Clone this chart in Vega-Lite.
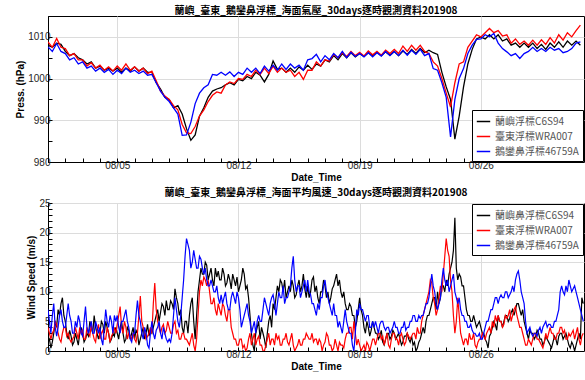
{
"$schema": "https://vega.github.io/schema/vega-lite/v6.json",
"background": "white",
"padding": {"left": 15, "top": 5, "right": 1, "bottom": 2},
"spacing": 4,
"config": {
  "font": "Liberation Sans",
  "view": {"stroke": "black", "strokeWidth": 1},
  "axis": {"labelFontSize": 10, "labelColor": "#262626", "titleFontSize": 10, "titleFontWeight": "bold", "titleColor": "#000", "tickColor": "#000", "domainColor": "#000", "gridColor": "#dcdcdc", "grid": true, "tickSize": -4, "labelPadding": 2, "titlePadding": 2},
  "legend": {"symbolType": "stroke", "symbolStrokeWidth": 1.5, "symbolSize": 180, "strokeColor": "#000", "fillColor": "#fff", "padding": 4, "offset": 1, "labelFontSize": 10, "labelColor": "#555", "labelFont": "Noto Sans CJK TC", "rowPadding": 2, "title": null}
},
"resolve": {"scale": {"color": "independent"}, "legend": {"color": "independent"}},
"datasets": {
"p": [
{"t":"2019-08-01T00:00","a":1008,"b":1008.8,"c":1007.6},{"t":"2019-08-01T06:00","a":1007.5,"b":1007.5,"c":1006.5},{"t":"2019-08-01T12:00","a":1008.5,"b":1009.6,"c":1008.4},{"t":"2019-08-01T18:00","a":1008.2,"b":1007.5,"c":1006.5},
{"t":"2019-08-02T00:00","a":1006.5,"b":1007.2,"c":1006},{"t":"2019-08-02T06:00","a":1005.5,"b":1005.5,"c":1004.5},{"t":"2019-08-02T12:00","a":1006,"b":1006,"c":1005},{"t":"2019-08-02T18:00","a":1005,"b":1004.5,"c":1003.5},
{"t":"2019-08-03T00:00","a":1004.5,"b":1004.5,"c":1004},{"t":"2019-08-03T06:00","a":1003.5,"b":1003,"c":1002.5},{"t":"2019-08-03T12:00","a":1004,"b":1003.8,"c":1003},{"t":"2019-08-03T18:00","a":1002.5,"b":1002.5,"c":1001.8},
{"t":"2019-08-04T00:00","a":1003,"b":1003.2,"c":1002.5},{"t":"2019-08-04T06:00","a":1002,"b":1002,"c":1001.5},{"t":"2019-08-04T12:00","a":1002.5,"b":1002.8,"c":1002.2},{"t":"2019-08-04T18:00","a":1001.8,"b":1001.8,"c":1001},
{"t":"2019-08-05T00:00","a":1002.5,"b":1003,"c":1002},{"t":"2019-08-05T06:00","a":1001.5,"b":1002,"c":1001.2},{"t":"2019-08-05T12:00","a":1002.5,"b":1003.5,"c":1002.5},{"t":"2019-08-05T18:00","a":1001.8,"b":1002,"c":1001.5},
{"t":"2019-08-06T00:00","a":1002.8,"b":1002.8,"c":1002},{"t":"2019-08-06T06:00","a":1001.8,"b":1001.8,"c":1001.2},{"t":"2019-08-06T12:00","a":1002.5,"b":1002.5,"c":1001.8},{"t":"2019-08-06T18:00","a":1001.5,"b":1001.2,"c":1000.8},
{"t":"2019-08-07T00:00","a":1001.5,"b":1001.8,"c":1001},{"t":"2019-08-07T06:00","a":999,"b":999.5,"c":999},{"t":"2019-08-07T12:00","a":997.5,"b":997,"c":997},{"t":"2019-08-07T18:00","a":995.5,"b":995.8,"c":995.5},
{"t":"2019-08-08T00:00","a":995,"b":995,"c":994.5},{"t":"2019-08-08T06:00","a":993,"b":993.5,"c":993},{"t":"2019-08-08T12:00","a":993.5,"b":992.5,"c":991.5},{"t":"2019-08-08T18:00","a":991.5,"b":989,"c":986.4},
{"t":"2019-08-09T00:00","a":988,"b":987,"c":986.5},{"t":"2019-08-09T06:00","a":985.2,"b":986.8,"c":989.5},{"t":"2019-08-09T12:00","a":986.5,"b":988.5,"c":994},{"t":"2019-08-09T18:00","a":991,"b":991,"c":996.5},
{"t":"2019-08-10T00:00","a":993,"b":992.5,"c":997.8},{"t":"2019-08-10T06:00","a":995.5,"b":994.5,"c":998.5},{"t":"2019-08-10T12:00","a":997,"b":996,"c":1001},{"t":"2019-08-10T18:00","a":997.5,"b":996.8,"c":1000.8},
{"t":"2019-08-11T00:00","a":997.8,"b":996.5,"c":1001.5},{"t":"2019-08-11T06:00","a":998.5,"b":998.5,"c":1000.8},{"t":"2019-08-11T12:00","a":999,"b":999.2,"c":1001.6},{"t":"2019-08-11T18:00","a":998.5,"b":998.8,"c":1000.5},
{"t":"2019-08-12T00:00","a":999.8,"b":1000,"c":1001.5},{"t":"2019-08-12T06:00","a":999.5,"b":999.8,"c":1001},{"t":"2019-08-12T12:00","a":1000.5,"b":1001,"c":1002.5},{"t":"2019-08-12T18:00","a":1000,"b":1000.5,"c":1001.5},
{"t":"2019-08-13T00:00","a":1001.5,"b":1002,"c":1002.5},{"t":"2019-08-13T06:00","a":1000.8,"b":1001,"c":1001.2},{"t":"2019-08-13T12:00","a":999.2,"b":1002.5,"c":1003},{"t":"2019-08-13T18:00","a":1001,"b":1001.2,"c":1001.8},
{"t":"2019-08-14T00:00","a":1004.2,"b":1003,"c":1003.2},{"t":"2019-08-14T06:00","a":1002.2,"b":1001.5,"c":1002},{"t":"2019-08-14T12:00","a":1002.5,"b":1002.5,"c":1003.5},{"t":"2019-08-14T18:00","a":1001.5,"b":1001.5,"c":1002.2},
{"t":"2019-08-15T00:00","a":1002.5,"b":1002,"c":1003.5},{"t":"2019-08-15T06:00","a":1001.5,"b":1000.5,"c":1002.5},{"t":"2019-08-15T12:00","a":1002.8,"b":1001.5,"c":1003.2},{"t":"2019-08-15T18:00","a":1002,"b":999.8,"c":1002},
{"t":"2019-08-16T00:00","a":1003.2,"b":1002,"c":1004.5},{"t":"2019-08-16T06:00","a":1002.2,"b":1002,"c":1004.8},{"t":"2019-08-16T12:00","a":1003.5,"b":1004,"c":1005.8},{"t":"2019-08-16T18:00","a":1003,"b":1003,"c":1004},
{"t":"2019-08-17T00:00","a":1004.5,"b":1004.5,"c":1005.5},{"t":"2019-08-17T06:00","a":1004,"b":1004.2,"c":1004.5},{"t":"2019-08-17T12:00","a":1005.5,"b":1005.8,"c":1006},{"t":"2019-08-17T18:00","a":1004.5,"b":1005,"c":1005},
{"t":"2019-08-18T00:00","a":1006,"b":1006.2,"c":1006.5},{"t":"2019-08-18T06:00","a":1005,"b":1005.3,"c":1005},{"t":"2019-08-18T12:00","a":1006.2,"b":1006.5,"c":1006.3},{"t":"2019-08-18T18:00","a":1005.2,"b":1005.5,"c":1005.3},
{"t":"2019-08-19T00:00","a":1006,"b":1006.3,"c":1006},{"t":"2019-08-19T06:00","a":1005.3,"b":1005.4,"c":1005.2},{"t":"2019-08-19T12:00","a":1006.2,"b":1006.6,"c":1006.2},{"t":"2019-08-19T18:00","a":1005.5,"b":1005.7,"c":1005.2},
{"t":"2019-08-20T00:00","a":1006.3,"b":1006.5,"c":1006.2},{"t":"2019-08-20T06:00","a":1005.5,"b":1005.6,"c":1005.4},{"t":"2019-08-20T12:00","a":1006.4,"b":1006.8,"c":1006.5},{"t":"2019-08-20T18:00","a":1005.6,"b":1006,"c":1005.5},
{"t":"2019-08-21T00:00","a":1006.5,"b":1007,"c":1006.5},{"t":"2019-08-21T06:00","a":1005.5,"b":1006,"c":1005.5},{"t":"2019-08-21T12:00","a":1006.6,"b":1007.8,"c":1006.8},{"t":"2019-08-21T18:00","a":1005.8,"b":1006.5,"c":1005.6},
{"t":"2019-08-22T00:00","a":1007,"b":1008,"c":1006.8},{"t":"2019-08-22T06:00","a":1006,"b":1006.8,"c":1005.8},{"t":"2019-08-22T12:00","a":1007.2,"b":1008,"c":1007},{"t":"2019-08-22T18:00","a":1006.2,"b":1006.5,"c":1005.5},
{"t":"2019-08-23T00:00","a":1006.8,"b":1006,"c":1006},{"t":"2019-08-23T06:00","a":1006.2,"b":1004,"c":1002.4},{"t":"2019-08-23T12:00","a":1005.8,"b":1003,"c":1002},{"t":"2019-08-23T18:00","a":1001.5,"b":1000,"c":999},
{"t":"2019-08-24T00:00","a":998,"b":996.5,"c":995.5},{"t":"2019-08-24T06:00","a":995,"b":993.2,"c":986},{"t":"2019-08-24T12:00","a":985.5,"b":999,"c":995},{"t":"2019-08-24T18:00","a":991,"b":1003.5,"c":1000},
{"t":"2019-08-25T00:00","a":998,"b":1004,"c":1002.4},{"t":"2019-08-25T06:00","a":1003.5,"b":1007.5,"c":1006},{"t":"2019-08-25T12:00","a":1007,"b":1009,"c":1008},{"t":"2019-08-25T18:00","a":1009.5,"b":1010.5,"c":1009.4},
{"t":"2019-08-26T00:00","a":1010,"b":1010,"c":1009.5},{"t":"2019-08-26T06:00","a":1009.5,"b":1011,"c":1010.5},{"t":"2019-08-26T12:00","a":1010.5,"b":1012,"c":1010},{"t":"2019-08-26T18:00","a":1009.5,"b":1011,"c":1010.8},
{"t":"2019-08-27T00:00","a":1010.5,"b":1011.5,"c":1008.5},{"t":"2019-08-27T06:00","a":1009,"b":1010.2,"c":1007.2},{"t":"2019-08-27T12:00","a":1009.5,"b":1010.5,"c":1006.4},{"t":"2019-08-27T18:00","a":1008,"b":1008.5,"c":1005.5},
{"t":"2019-08-28T00:00","a":1008.5,"b":1009.5,"c":1006},{"t":"2019-08-28T06:00","a":1007.5,"b":1008.2,"c":1004.8},{"t":"2019-08-28T12:00","a":1008.5,"b":1009,"c":1006},{"t":"2019-08-28T18:00","a":1007.5,"b":1008,"c":1006.5},
{"t":"2019-08-29T00:00","a":1008.5,"b":1009.2,"c":1007.5},{"t":"2019-08-29T06:00","a":1007.2,"b":1008,"c":1006.5},{"t":"2019-08-29T12:00","a":1008.2,"b":1009.3,"c":1007.2},{"t":"2019-08-29T18:00","a":1007,"b":1008.2,"c":1006.5},
{"t":"2019-08-30T00:00","a":1008.5,"b":1009.8,"c":1007.5},{"t":"2019-08-30T06:00","a":1007.5,"b":1008.5,"c":1006.8},{"t":"2019-08-30T12:00","a":1008.8,"b":1010.5,"c":1007.2},{"t":"2019-08-30T18:00","a":1007.5,"b":1009.2,"c":1006.2},
{"t":"2019-08-31T00:00","a":1009,"b":1011,"c":1006.5},{"t":"2019-08-31T06:00","a":1008,"b":1010,"c":1007.2},{"t":"2019-08-31T12:00","a":1009,"b":1011.5,"c":1008.5},{"t":"2019-08-31T18:00","a":1008,"b":1012.8,"c":1008.8}
],
"w": [
{"t":"2019-08-01T00:00","a":1.5,"b":4,"c":7},{"t":"2019-08-01T02:00","a":2,"b":3,"c":5},{"t":"2019-08-01T04:00","a":0.5,"b":2,"c":3},{"t":"2019-08-01T06:00","a":1.5,"b":3,"c":6},{"t":"2019-08-01T08:00","a":3,"b":3.5,"c":8},{"t":"2019-08-01T10:00","a":5,"b":5,"c":4},{"t":"2019-08-01T12:00","a":4,"b":4.5,"c":2.5},{"t":"2019-08-01T14:00","a":7,"b":3,"c":4},{"t":"2019-08-01T16:00","a":6,"b":2,"c":6},{"t":"2019-08-01T18:00","a":8,"b":1.5,"c":7},{"t":"2019-08-01T20:00","a":9,"b":3,"c":5},{"t":"2019-08-01T22:00","a":6,"b":4,"c":4},
{"t":"2019-08-02T00:00","a":5,"b":4,"c":4},{"t":"2019-08-02T02:00","a":3,"b":2.5,"c":6},{"t":"2019-08-02T04:00","a":2,"b":3,"c":8},{"t":"2019-08-02T06:00","a":3.5,"b":2,"c":6},{"t":"2019-08-02T08:00","a":2.5,"b":1.5,"c":5},{"t":"2019-08-02T10:00","a":1,"b":2,"c":3},{"t":"2019-08-02T12:00","a":1.5,"b":2.5,"c":3},{"t":"2019-08-02T14:00","a":3,"b":4,"c":5},{"t":"2019-08-02T16:00","a":2,"b":3,"c":4},{"t":"2019-08-02T18:00","a":1,"b":2,"c":6},{"t":"2019-08-02T20:00","a":3,"b":4,"c":5},{"t":"2019-08-02T22:00","a":4,"b":3,"c":3},
{"t":"2019-08-03T00:00","a":3,"b":3.5,"c":2.5},{"t":"2019-08-03T02:00","a":1.5,"b":2,"c":5},{"t":"2019-08-03T04:00","a":2,"b":2,"c":7.5},{"t":"2019-08-03T06:00","a":3,"b":4,"c":4},{"t":"2019-08-03T08:00","a":2.5,"b":3,"c":3},{"t":"2019-08-03T10:00","a":5,"b":2.5,"c":4},{"t":"2019-08-03T12:00","a":4,"b":4.5,"c":5},{"t":"2019-08-03T14:00","a":3,"b":3,"c":3},{"t":"2019-08-03T16:00","a":6,"b":2,"c":3},{"t":"2019-08-03T18:00","a":4,"b":1.5,"c":5},{"t":"2019-08-03T20:00","a":3,"b":3.5,"c":4},{"t":"2019-08-03T22:00","a":2,"b":4.5,"c":3},
{"t":"2019-08-04T00:00","a":3,"b":2,"c":4},{"t":"2019-08-04T02:00","a":5,"b":3,"c":2},{"t":"2019-08-04T04:00","a":4.5,"b":3.5,"c":1},{"t":"2019-08-04T06:00","a":3,"b":2,"c":4},{"t":"2019-08-04T08:00","a":5,"b":2,"c":7},{"t":"2019-08-04T10:00","a":4,"b":4,"c":5},{"t":"2019-08-04T12:00","a":3,"b":3,"c":4},{"t":"2019-08-04T14:00","a":1.5,"b":1.5,"c":6},{"t":"2019-08-04T16:00","a":2,"b":2.5,"c":5},{"t":"2019-08-04T18:00","a":3,"b":3,"c":3},{"t":"2019-08-04T20:00","a":2.5,"b":4,"c":6},{"t":"2019-08-04T22:00","a":4,"b":3,"c":5},
{"t":"2019-08-05T00:00","a":3,"b":4.5,"c":6},{"t":"2019-08-05T02:00","a":2,"b":6,"c":4},{"t":"2019-08-05T04:00","a":4,"b":7.5,"c":3},{"t":"2019-08-05T06:00","a":5,"b":4,"c":5},{"t":"2019-08-05T08:00","a":3,"b":3,"c":5},{"t":"2019-08-05T10:00","a":1.5,"b":5,"c":6},{"t":"2019-08-05T12:00","a":2,"b":4,"c":7},{"t":"2019-08-05T14:00","a":4,"b":2,"c":5},{"t":"2019-08-05T16:00","a":3.5,"b":3,"c":4},{"t":"2019-08-05T18:00","a":2,"b":2.5,"c":2},{"t":"2019-08-05T20:00","a":3,"b":2,"c":1.5},{"t":"2019-08-05T22:00","a":4,"b":3,"c":3},
{"t":"2019-08-06T00:00","a":2,"b":2,"c":3},{"t":"2019-08-06T02:00","a":3.5,"b":1.5,"c":6},{"t":"2019-08-06T04:00","a":3,"b":3,"c":8.5},{"t":"2019-08-06T06:00","a":1,"b":6,"c":6},{"t":"2019-08-06T08:00","a":2,"b":9.3,"c":5},{"t":"2019-08-06T10:00","a":3,"b":5,"c":3},{"t":"2019-08-06T12:00","a":4,"b":4,"c":2},{"t":"2019-08-06T14:00","a":2,"b":3,"c":4},{"t":"2019-08-06T16:00","a":3,"b":2,"c":3},{"t":"2019-08-06T18:00","a":4.5,"b":2.5,"c":1},{"t":"2019-08-06T20:00","a":2.5,"b":3,"c":0.5},{"t":"2019-08-06T22:00","a":3.5,"b":4,"c":3},
{"t":"2019-08-07T00:00","a":3,"b":3,"c":5},{"t":"2019-08-07T02:00","a":4,"b":8,"c":3},{"t":"2019-08-07T04:00","a":5,"b":11.5,"c":2},{"t":"2019-08-07T06:00","a":6,"b":7,"c":3.5},{"t":"2019-08-07T08:00","a":7,"b":5,"c":4},{"t":"2019-08-07T10:00","a":5,"b":4,"c":5},{"t":"2019-08-07T12:00","a":6.5,"b":3,"c":3},{"t":"2019-08-07T14:00","a":8,"b":4,"c":2},{"t":"2019-08-07T16:00","a":7.5,"b":4.5,"c":4},{"t":"2019-08-07T18:00","a":6,"b":3,"c":3},{"t":"2019-08-07T20:00","a":8.5,"b":3.5,"c":2},{"t":"2019-08-07T22:00","a":7,"b":5,"c":1.5},
{"t":"2019-08-08T00:00","a":7,"b":4,"c":2},{"t":"2019-08-08T02:00","a":8.5,"b":3,"c":1.5},{"t":"2019-08-08T04:00","a":8,"b":3,"c":3},{"t":"2019-08-08T06:00","a":7,"b":4.5,"c":6},{"t":"2019-08-08T08:00","a":10.5,"b":5,"c":9},{"t":"2019-08-08T10:00","a":9,"b":3,"c":7},{"t":"2019-08-08T12:00","a":8,"b":3.5,"c":5},{"t":"2019-08-08T14:00","a":6,"b":2,"c":4},{"t":"2019-08-08T16:00","a":7,"b":2,"c":6},{"t":"2019-08-08T18:00","a":4,"b":3,"c":9},{"t":"2019-08-08T20:00","a":3,"b":3,"c":12},{"t":"2019-08-08T22:00","a":5,"b":2,"c":16},
{"t":"2019-08-09T00:00","a":5,"b":2,"c":19},{"t":"2019-08-09T02:00","a":3,"b":1.5,"c":18},{"t":"2019-08-09T04:00","a":6,"b":1,"c":17},{"t":"2019-08-09T06:00","a":8,"b":2,"c":14},{"t":"2019-08-09T08:00","a":9,"b":3,"c":15},{"t":"2019-08-09T10:00","a":5,"b":1,"c":17},{"t":"2019-08-09T12:00","a":2,"b":0,"c":15.5},{"t":"2019-08-09T14:00","a":6,"b":2,"c":14},{"t":"2019-08-09T16:00","a":10,"b":6,"c":14},{"t":"2019-08-09T18:00","a":12,"b":10,"c":16},{"t":"2019-08-09T20:00","a":14,"b":12,"c":15.5},{"t":"2019-08-09T22:00","a":13,"b":11,"c":14},
{"t":"2019-08-10T00:00","a":13,"b":12.5,"c":13},{"t":"2019-08-10T02:00","a":15,"b":12,"c":14},{"t":"2019-08-10T04:00","a":14.5,"b":11,"c":12},{"t":"2019-08-10T06:00","a":12,"b":12,"c":11},{"t":"2019-08-10T08:00","a":13,"b":10,"c":11},{"t":"2019-08-10T10:00","a":14,"b":8,"c":12},{"t":"2019-08-10T12:00","a":12,"b":8,"c":11},{"t":"2019-08-10T14:00","a":11,"b":9,"c":10},{"t":"2019-08-10T16:00","a":14,"b":7,"c":10},{"t":"2019-08-10T18:00","a":12.5,"b":6,"c":11},{"t":"2019-08-10T20:00","a":13.5,"b":8,"c":9},{"t":"2019-08-10T22:00","a":12,"b":7,"c":8},
{"t":"2019-08-11T00:00","a":12,"b":6,"c":9.5},{"t":"2019-08-11T02:00","a":14,"b":8,"c":8},{"t":"2019-08-11T04:00","a":13,"b":7.5,"c":9},{"t":"2019-08-11T06:00","a":11,"b":6,"c":10},{"t":"2019-08-11T08:00","a":11.5,"b":5,"c":8},{"t":"2019-08-11T10:00","a":13,"b":7,"c":7},{"t":"2019-08-11T12:00","a":12,"b":7,"c":7},{"t":"2019-08-11T14:00","a":10.5,"b":4,"c":9},{"t":"2019-08-11T16:00","a":13,"b":3,"c":10},{"t":"2019-08-11T18:00","a":12,"b":2,"c":9},{"t":"2019-08-11T20:00","a":11,"b":2,"c":8},{"t":"2019-08-11T22:00","a":12.5,"b":1,"c":10},
{"t":"2019-08-12T00:00","a":10,"b":1,"c":9},{"t":"2019-08-12T02:00","a":11,"b":2,"c":7},{"t":"2019-08-12T04:00","a":12,"b":2,"c":4},{"t":"2019-08-12T06:00","a":14,"b":0.5,"c":5},{"t":"2019-08-12T08:00","a":13,"b":1,"c":6},{"t":"2019-08-12T10:00","a":10.5,"b":0,"c":7},{"t":"2019-08-12T12:00","a":11,"b":0.5,"c":8},{"t":"2019-08-12T14:00","a":9,"b":2,"c":6},{"t":"2019-08-12T16:00","a":6,"b":3,"c":5},{"t":"2019-08-12T18:00","a":3,"b":1,"c":3},{"t":"2019-08-12T20:00","a":1,"b":2,"c":4},{"t":"2019-08-12T22:00","a":0,"b":3,"c":5},
{"t":"2019-08-13T00:00","a":3,"b":1,"c":3},{"t":"2019-08-13T02:00","a":4,"b":2,"c":5},{"t":"2019-08-13T04:00","a":5,"b":2.5,"c":6},{"t":"2019-08-13T06:00","a":2,"b":1,"c":5},{"t":"2019-08-13T08:00","a":4,"b":1,"c":5},{"t":"2019-08-13T10:00","a":3,"b":0,"c":7},{"t":"2019-08-13T12:00","a":2,"b":0,"c":9},{"t":"2019-08-13T14:00","a":0.5,"b":1,"c":8},{"t":"2019-08-13T16:00","a":3,"b":2,"c":7},{"t":"2019-08-13T18:00","a":5,"b":3,"c":6},{"t":"2019-08-13T20:00","a":6,"b":1,"c":8},{"t":"2019-08-13T22:00","a":4,"b":2,"c":9},
{"t":"2019-08-14T00:00","a":8,"b":2,"c":9.5},{"t":"2019-08-14T02:00","a":7,"b":1,"c":8},{"t":"2019-08-14T04:00","a":9,"b":3,"c":6},{"t":"2019-08-14T06:00","a":11,"b":2,"c":8},{"t":"2019-08-14T08:00","a":10,"b":2.5,"c":10},{"t":"2019-08-14T10:00","a":12,"b":1,"c":9},{"t":"2019-08-14T12:00","a":11.5,"b":1,"c":9},{"t":"2019-08-14T14:00","a":10,"b":2,"c":11},{"t":"2019-08-14T16:00","a":12,"b":2,"c":8},{"t":"2019-08-14T18:00","a":9,"b":3,"c":9},{"t":"2019-08-14T20:00","a":10,"b":1.5,"c":9},{"t":"2019-08-14T22:00","a":11,"b":1,"c":10},
{"t":"2019-08-15T00:00","a":10,"b":2,"c":11},{"t":"2019-08-15T02:00","a":12,"b":3,"c":14},{"t":"2019-08-15T04:00","a":11,"b":1,"c":16},{"t":"2019-08-15T06:00","a":9,"b":0,"c":12},{"t":"2019-08-15T08:00","a":9.5,"b":0.5,"c":10},{"t":"2019-08-15T10:00","a":11,"b":1,"c":11},{"t":"2019-08-15T12:00","a":12,"b":2,"c":11},{"t":"2019-08-15T14:00","a":10,"b":1,"c":9},{"t":"2019-08-15T16:00","a":11,"b":1,"c":10},{"t":"2019-08-15T18:00","a":13,"b":2,"c":11},{"t":"2019-08-15T20:00","a":10.5,"b":2,"c":12},{"t":"2019-08-15T22:00","a":9,"b":3,"c":10},
{"t":"2019-08-16T00:00","a":11,"b":2.5,"c":12},{"t":"2019-08-16T02:00","a":9,"b":2,"c":10},{"t":"2019-08-16T04:00","a":10,"b":2,"c":9.5},{"t":"2019-08-16T06:00","a":12,"b":3,"c":8},{"t":"2019-08-16T08:00","a":12.5,"b":1.5,"c":8},{"t":"2019-08-16T10:00","a":10,"b":2,"c":7},{"t":"2019-08-16T12:00","a":11,"b":2,"c":6},{"t":"2019-08-16T14:00","a":9,"b":1,"c":8},{"t":"2019-08-16T16:00","a":8,"b":2,"c":7},{"t":"2019-08-16T18:00","a":10,"b":1.5,"c":9},{"t":"2019-08-16T20:00","a":10,"b":0,"c":9},{"t":"2019-08-16T22:00","a":12,"b":1,"c":11},
{"t":"2019-08-17T00:00","a":11,"b":1.5,"c":12},{"t":"2019-08-17T02:00","a":9,"b":3,"c":10},{"t":"2019-08-17T04:00","a":10,"b":2.5,"c":9},{"t":"2019-08-17T06:00","a":8,"b":1,"c":8},{"t":"2019-08-17T08:00","a":9,"b":1,"c":7},{"t":"2019-08-17T10:00","a":10.5,"b":0,"c":6},{"t":"2019-08-17T12:00","a":11,"b":0.5,"c":8},{"t":"2019-08-17T14:00","a":12,"b":2,"c":6},{"t":"2019-08-17T16:00","a":13,"b":1,"c":6},{"t":"2019-08-17T18:00","a":11,"b":0,"c":4},{"t":"2019-08-17T20:00","a":12,"b":1.5,"c":5},{"t":"2019-08-17T22:00","a":10,"b":1,"c":4},
{"t":"2019-08-18T00:00","a":9,"b":1,"c":3},{"t":"2019-08-18T02:00","a":10,"b":0.5,"c":5},{"t":"2019-08-18T04:00","a":8,"b":2,"c":7},{"t":"2019-08-18T06:00","a":7,"b":3,"c":5},{"t":"2019-08-18T08:00","a":7,"b":3,"c":4},{"t":"2019-08-18T10:00","a":8,"b":4,"c":3},{"t":"2019-08-18T12:00","a":7.5,"b":4,"c":3},{"t":"2019-08-18T14:00","a":6,"b":2,"c":1},{"t":"2019-08-18T16:00","a":6,"b":5,"c":0},{"t":"2019-08-18T18:00","a":4,"b":3,"c":3},{"t":"2019-08-18T20:00","a":5,"b":1,"c":7},{"t":"2019-08-18T22:00","a":7,"b":2,"c":6},
{"t":"2019-08-19T00:00","a":9,"b":1,"c":8},{"t":"2019-08-19T02:00","a":7,"b":0,"c":7},{"t":"2019-08-19T04:00","a":6,"b":0.5,"c":7},{"t":"2019-08-19T06:00","a":4,"b":1,"c":6},{"t":"2019-08-19T08:00","a":3,"b":0,"c":5},{"t":"2019-08-19T10:00","a":5,"b":1.5,"c":6},{"t":"2019-08-19T12:00","a":4,"b":1,"c":6},{"t":"2019-08-19T14:00","a":2.5,"b":0,"c":4},{"t":"2019-08-19T16:00","a":3.5,"b":1,"c":4},{"t":"2019-08-19T18:00","a":5,"b":2,"c":5},{"t":"2019-08-19T20:00","a":4,"b":2,"c":4},{"t":"2019-08-19T22:00","a":3,"b":1,"c":5},
{"t":"2019-08-20T00:00","a":3,"b":2,"c":4},{"t":"2019-08-20T02:00","a":2,"b":3,"c":3},{"t":"2019-08-20T04:00","a":2.5,"b":3,"c":4.5},{"t":"2019-08-20T06:00","a":3.5,"b":2,"c":5},{"t":"2019-08-20T08:00","a":1.5,"b":2.5,"c":5},{"t":"2019-08-20T10:00","a":1,"b":1,"c":4},{"t":"2019-08-20T12:00","a":2,"b":2,"c":3.5},{"t":"2019-08-20T14:00","a":3,"b":3,"c":4},{"t":"2019-08-20T16:00","a":3,"b":1,"c":4},{"t":"2019-08-20T18:00","a":2,"b":0.5,"c":3},{"t":"2019-08-20T20:00","a":2.5,"b":2,"c":3.5},{"t":"2019-08-20T22:00","a":3.5,"b":3,"c":4},
{"t":"2019-08-21T00:00","a":3,"b":3,"c":5},{"t":"2019-08-21T02:00","a":2,"b":2,"c":4},{"t":"2019-08-21T04:00","a":2.5,"b":2,"c":4},{"t":"2019-08-21T06:00","a":3,"b":1,"c":3},{"t":"2019-08-21T08:00","a":2,"b":2.5,"c":3},{"t":"2019-08-21T10:00","a":1,"b":3,"c":4},{"t":"2019-08-21T12:00","a":1.5,"b":2,"c":4},{"t":"2019-08-21T14:00","a":2.5,"b":1,"c":5},{"t":"2019-08-21T16:00","a":2.5,"b":1.5,"c":3.5},{"t":"2019-08-21T18:00","a":3,"b":3,"c":4},{"t":"2019-08-21T20:00","a":2,"b":2.5,"c":4},{"t":"2019-08-21T22:00","a":1.5,"b":2,"c":5},
{"t":"2019-08-22T00:00","a":2.5,"b":2.5,"c":5},{"t":"2019-08-22T02:00","a":1,"b":3,"c":6},{"t":"2019-08-22T04:00","a":1.5,"b":3,"c":6},{"t":"2019-08-22T06:00","a":0,"b":2,"c":5},{"t":"2019-08-22T08:00","a":0.5,"b":4,"c":5},{"t":"2019-08-22T10:00","a":1.5,"b":3,"c":6},{"t":"2019-08-22T12:00","a":2,"b":3,"c":5.5},{"t":"2019-08-22T14:00","a":3,"b":5,"c":6},{"t":"2019-08-22T16:00","a":4,"b":6,"c":6},{"t":"2019-08-22T18:00","a":3,"b":7,"c":7},{"t":"2019-08-22T20:00","a":5,"b":8,"c":8},{"t":"2019-08-22T22:00","a":6,"b":9,"c":8},
{"t":"2019-08-23T00:00","a":6,"b":10,"c":9},{"t":"2019-08-23T02:00","a":7,"b":12,"c":11},{"t":"2019-08-23T04:00","a":8,"b":11.5,"c":13},{"t":"2019-08-23T06:00","a":9,"b":9,"c":11},{"t":"2019-08-23T08:00","a":9,"b":8,"c":10},{"t":"2019-08-23T10:00","a":7,"b":6,"c":8},{"t":"2019-08-23T12:00","a":10,"b":7,"c":7},{"t":"2019-08-23T14:00","a":8,"b":9,"c":8},{"t":"2019-08-23T16:00","a":9,"b":11,"c":9},{"t":"2019-08-23T18:00","a":11,"b":10,"c":12},{"t":"2019-08-23T20:00","a":11,"b":13,"c":14},{"t":"2019-08-23T22:00","a":10,"b":16,"c":12},
{"t":"2019-08-24T00:00","a":12,"b":19,"c":11},{"t":"2019-08-24T02:00","a":11,"b":17,"c":12},{"t":"2019-08-24T04:00","a":13,"b":16,"c":10},{"t":"2019-08-24T06:00","a":14,"b":12,"c":11},{"t":"2019-08-24T08:00","a":15,"b":10,"c":12},{"t":"2019-08-24T10:00","a":17,"b":6,"c":13},{"t":"2019-08-24T12:00","a":22.5,"b":3,"c":10},{"t":"2019-08-24T14:00","a":14,"b":5,"c":9},{"t":"2019-08-24T16:00","a":12,"b":9,"c":8},{"t":"2019-08-24T18:00","a":13,"b":6,"c":9},{"t":"2019-08-24T20:00","a":12.5,"b":3,"c":7},{"t":"2019-08-24T22:00","a":11,"b":2,"c":6},
{"t":"2019-08-25T00:00","a":11,"b":1,"c":6},{"t":"2019-08-25T02:00","a":9,"b":2,"c":5},{"t":"2019-08-25T04:00","a":7,"b":2,"c":5},{"t":"2019-08-25T06:00","a":6,"b":1,"c":4},{"t":"2019-08-25T08:00","a":6,"b":3,"c":4},{"t":"2019-08-25T10:00","a":5,"b":2,"c":4.5},{"t":"2019-08-25T12:00","a":5,"b":2,"c":3.5},{"t":"2019-08-25T14:00","a":6,"b":3,"c":3},{"t":"2019-08-25T16:00","a":5,"b":1,"c":3},{"t":"2019-08-25T18:00","a":4,"b":0.5,"c":2.5},{"t":"2019-08-25T20:00","a":4.5,"b":1.5,"c":2.5},{"t":"2019-08-25T22:00","a":5,"b":2,"c":3},
{"t":"2019-08-26T00:00","a":4,"b":2,"c":2},{"t":"2019-08-26T02:00","a":3,"b":3,"c":2},{"t":"2019-08-26T04:00","a":3,"b":2.5,"c":3},{"t":"2019-08-26T06:00","a":2,"b":2,"c":4},{"t":"2019-08-26T08:00","a":1.5,"b":3,"c":5},{"t":"2019-08-26T10:00","a":0.5,"b":3.5,"c":5},{"t":"2019-08-26T12:00","a":2.5,"b":4,"c":6},{"t":"2019-08-26T14:00","a":3,"b":3,"c":7},{"t":"2019-08-26T16:00","a":4,"b":5,"c":7},{"t":"2019-08-26T18:00","a":5,"b":4,"c":8},{"t":"2019-08-26T20:00","a":4.5,"b":6,"c":9},{"t":"2019-08-26T22:00","a":3.5,"b":5,"c":9},
{"t":"2019-08-27T00:00","a":6,"b":6,"c":8},{"t":"2019-08-27T02:00","a":5,"b":5,"c":9},{"t":"2019-08-27T04:00","a":5,"b":5,"c":9.5},{"t":"2019-08-27T06:00","a":4,"b":4,"c":9},{"t":"2019-08-27T08:00","a":5,"b":4.5,"c":9},{"t":"2019-08-27T10:00","a":6,"b":6,"c":10},{"t":"2019-08-27T12:00","a":6,"b":5.5,"c":10},{"t":"2019-08-27T14:00","a":5,"b":6,"c":9},{"t":"2019-08-27T16:00","a":5.5,"b":7,"c":9.5},{"t":"2019-08-27T18:00","a":6.5,"b":5,"c":10},{"t":"2019-08-27T20:00","a":7,"b":6,"c":11},{"t":"2019-08-27T22:00","a":6,"b":7,"c":10},
{"t":"2019-08-28T00:00","a":7,"b":7.5,"c":12},{"t":"2019-08-28T02:00","a":8,"b":6,"c":13},{"t":"2019-08-28T04:00","a":8,"b":5,"c":13.5},{"t":"2019-08-28T06:00","a":7,"b":4,"c":12},{"t":"2019-08-28T08:00","a":6,"b":4,"c":10},{"t":"2019-08-28T10:00","a":7,"b":3,"c":9},{"t":"2019-08-28T12:00","a":5,"b":2,"c":8},{"t":"2019-08-28T14:00","a":4,"b":1,"c":5},{"t":"2019-08-28T16:00","a":3,"b":1,"c":3},{"t":"2019-08-28T18:00","a":2,"b":2,"c":3.5},{"t":"2019-08-28T20:00","a":3.5,"b":1.5,"c":4},{"t":"2019-08-28T22:00","a":3,"b":1,"c":3},
{"t":"2019-08-29T00:00","a":3,"b":2,"c":2.5},{"t":"2019-08-29T02:00","a":2,"b":3,"c":3},{"t":"2019-08-29T04:00","a":2.5,"b":3,"c":3},{"t":"2019-08-29T06:00","a":3.5,"b":2,"c":2.5},{"t":"2019-08-29T08:00","a":3,"b":2,"c":3.5},{"t":"2019-08-29T10:00","a":2,"b":1.5,"c":4},{"t":"2019-08-29T12:00","a":2,"b":1,"c":3},{"t":"2019-08-29T14:00","a":1,"b":0.5,"c":4},{"t":"2019-08-29T16:00","a":1.5,"b":1.5,"c":4.5},{"t":"2019-08-29T18:00","a":2.5,"b":3,"c":5},{"t":"2019-08-29T20:00","a":2,"b":2,"c":4},{"t":"2019-08-29T22:00","a":1.5,"b":3,"c":4.5},
{"t":"2019-08-30T00:00","a":1,"b":4,"c":4.5},{"t":"2019-08-30T02:00","a":0.5,"b":3,"c":4},{"t":"2019-08-30T04:00","a":1.5,"b":3,"c":4},{"t":"2019-08-30T06:00","a":2.5,"b":2,"c":5},{"t":"2019-08-30T08:00","a":2,"b":2,"c":5},{"t":"2019-08-30T10:00","a":1,"b":3,"c":6},{"t":"2019-08-30T12:00","a":2.5,"b":3,"c":7},{"t":"2019-08-30T14:00","a":3,"b":4,"c":10},{"t":"2019-08-30T16:00","a":3,"b":4,"c":11},{"t":"2019-08-30T18:00","a":2,"b":3,"c":10},{"t":"2019-08-30T20:00","a":2.5,"b":3.5,"c":9.5},{"t":"2019-08-30T22:00","a":3,"b":2,"c":11},
{"t":"2019-08-31T00:00","a":2,"b":2,"c":10},{"t":"2019-08-31T02:00","a":1,"b":3,"c":12},{"t":"2019-08-31T04:00","a":0.5,"b":2.5,"c":11},{"t":"2019-08-31T06:00","a":1.5,"b":3,"c":10},{"t":"2019-08-31T08:00","a":1,"b":3.5,"c":10.5},{"t":"2019-08-31T10:00","a":0,"b":2,"c":11},{"t":"2019-08-31T12:00","a":1,"b":3,"c":10},{"t":"2019-08-31T14:00","a":2,"b":4,"c":9},{"t":"2019-08-31T16:00","a":3,"b":2,"c":8},{"t":"2019-08-31T18:00","a":2,"b":1,"c":7},{"t":"2019-08-31T20:00","a":9,"b":2.5,"c":6},{"t":"2019-08-31T22:00","a":8,"b":3,"c":5}
]
},
"vconcat": [
{
  "title": {"text": "蘭嶼_臺東_鵝鑾鼻浮標_海面氣壓_30days逐時觀測資料201908", "fontSize": 10, "fontWeight": "bold", "font": "Noto Sans CJK TC", "offset": 0},
  "width": 536, "height": 146,
  "data": {"name": "p"},
  "transform": [{"fold": ["a", "b", "c"], "as": ["s", "v"]}],
  "mark": {"type": "line", "strokeWidth": 1.3, "clip": true},
  "encoding": {
    "x": {"field": "t", "type": "temporal", "scale": {"domain": [{"year": 2019, "month": 8, "date": 1}, {"year": 2019, "month": 8, "date": 31, "hours": 23}]}, "axis": {"title": "Date_Time", "tickCount": {"interval": "day", "step": 1}, "labelExpr": "date(datum.value) % 7 == 5 ? timeFormat(datum.value, '%m/%d') : ''", "gridOpacity": {"condition": {"test": "date(datum.value) % 7 == 5", "value": 1}, "value": 0}}},
    "y": {"field": "v", "type": "quantitative", "scale": {"domain": [980, 1015], "nice": false, "zero": false}, "axis": {"title": "Press. (hPa)", "values": [980, 985, 990, 995, 1000, 1005, 1010, 1015], "format": "d", "labelExpr": "datum.value % 10 == 0 ? datum.label : ''", "gridOpacity": {"condition": {"test": "datum.value % 10 == 0", "value": 1}, "value": 0}}},
    "color": {"field": "s", "type": "nominal", "scale": {"domain": ["a", "b", "c"], "range": ["#000000", "#ff0000", "#0000ff"]}, "legend": {"orient": "bottom-right", "labelExpr": "datum.value == 'a' ? '蘭嶼浮標C6S94' : datum.value == 'b' ? '臺東浮標WRA007' : '鵝鑾鼻浮標46759A'"}}
  }
},
{
  "title": {"text": "蘭嶼_臺東_鵝鑾鼻浮標_海面平均風速_30days逐時觀測資料201908", "fontSize": 10, "fontWeight": "bold", "font": "Noto Sans CJK TC", "offset": 0},
  "width": 536, "height": 148,
  "data": {"name": "w"},
  "transform": [{"fold": ["a", "b", "c"], "as": ["s", "v"]}],
  "mark": {"type": "line", "strokeWidth": 1.2, "clip": true},
  "encoding": {
    "x": {"field": "t", "type": "temporal", "scale": {"domain": [{"year": 2019, "month": 8, "date": 1}, {"year": 2019, "month": 8, "date": 31, "hours": 23}]}, "axis": {"title": "Date_Time", "tickCount": {"interval": "day", "step": 1}, "labelExpr": "date(datum.value) % 7 == 5 ? timeFormat(datum.value, '%m/%d') : ''", "gridOpacity": {"condition": {"test": "date(datum.value) % 7 == 5", "value": 1}, "value": 0}}},
    "y": {"field": "v", "type": "quantitative", "scale": {"domain": [0, 25], "nice": false}, "axis": {"title": "Wind Speed (m/s)", "values": [0,1,2,3,4,5,6,7,8,9,10,11,12,13,14,15,16,17,18,19,20,21,22,23,24,25], "labelExpr": "datum.value % 5 == 0 ? datum.label : ''", "gridOpacity": {"condition": {"test": "datum.value % 5 == 0", "value": 1}, "value": 0}}},
    "color": {"field": "s", "type": "nominal", "scale": {"domain": ["a", "b", "c"], "range": ["#000000", "#ff0000", "#0000ff"]}, "legend": {"orient": "top-right", "labelExpr": "datum.value == 'a' ? '蘭嶼鼻浮標C6S94' : datum.value == 'b' ? '臺東浮標WRA007' : '鵝鑾鼻浮標46759A'"}}
  }
}
]
}
